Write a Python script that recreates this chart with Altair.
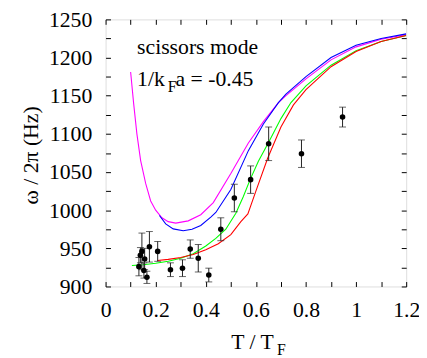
import altair as alt
import pandas as pd

# ---------------- data ----------------
T_pts = [0.133, 0.139, 0.145, 0.153, 0.156, 0.165, 0.175, 0.208, 0.259, 0.307,
         0.338, 0.370, 0.412, 0.460, 0.514, 0.579, 0.651, 0.782, 0.946]
f_pts = [926, 941, 946, 921, 936, 912, 952, 946, 922, 924,
         949, 937, 915, 975, 1016, 1040, 1087, 1074, 1122]
f_err = [12, 10, 24, 10, 14, 8, 20, 13, 9, 11,
         12, 18, 9, 15, 18, 18, 22, 18, 13]

mag_T = [0.100, 0.112, 0.125, 0.140, 0.160, 0.180, 0.200, 0.225, 0.250, 0.280, 0.330,
         0.380, 0.430, 0.500, 0.570, 0.630, 0.690, 0.720, 0.800, 0.900, 1.000, 1.100, 1.200]
mag_f = [1181, 1140, 1100, 1065, 1035, 1012, 1000, 990, 985, 983, 986,
         994, 1010, 1048, 1088, 1116, 1141, 1150, 1172, 1197, 1214, 1224, 1230]

blue_T = [0.215, 0.240, 0.270, 0.310, 0.345, 0.380, 0.420, 0.440, 0.500, 0.570, 0.630,
          0.690, 0.720, 0.800, 0.900, 1.000, 1.100, 1.200]
blue_f = [993, 982, 975.5, 973, 975, 980, 991, 997, 1027, 1078, 1113,
          1141, 1152, 1175, 1200, 1216, 1225, 1231]

green_T = [0.105, 0.150, 0.200, 0.250, 0.300, 0.350, 0.400, 0.440, 0.480, 0.520, 0.550,
           0.577, 0.610, 0.651, 0.700, 0.740, 0.800, 0.900, 1.000, 1.100, 1.200]
green_f = [927.5, 928.5, 930.5, 933, 937, 943, 953, 963, 975, 996, 1018,
           1040, 1064, 1089, 1120, 1141, 1163, 1190, 1209, 1221, 1229]

red_T = [0.207, 0.250, 0.300, 0.350, 0.400, 0.450, 0.500, 0.540, 0.568, 0.600, 0.647,
         0.700, 0.750, 0.800, 0.900, 1.000, 1.100, 1.200]
red_f = [934, 935.5, 938, 942, 948, 956, 968, 985, 995, 1025, 1068,
         1109, 1138, 1158, 1188, 1208, 1221, 1229]

series_names = ["magenta", "blue", "green", "red"]
series_colors = ["#ff00ff", "#0000ff", "#00ff00", "#ff0000"]

x_ticks = [0, 0.1, 0.2, 0.3, 0.4, 0.5, 0.6, 0.7, 0.8, 0.9, 1.0, 1.1, 1.2]
y_ticks = [900, 925, 950, 975, 1000, 1025, 1050, 1075, 1100, 1125, 1150,
           1175, 1200, 1225, 1250]

# ---------------- tables ----------------
rows = []
for name, ts, fs in zip(series_names, [mag_T, blue_T, green_T, red_T],
                        [mag_f, blue_f, green_f, red_f]):
    for i, (t, f) in enumerate(zip(ts, fs)):
        rows.append({"series": name, "T": t, "f": f, "i": i})
lines_df = pd.DataFrame(rows)
pts_df = pd.DataFrame({"T": T_pts, "f": f_pts, "e": f_err})

FONT = "Liberation Serif, Times New Roman, DejaVu Serif, serif"
FS = 22

x_scale = alt.Scale(domain=[0, 1.2], nice=False, zero=False)
y_scale = alt.Scale(domain=[900, 1250], nice=False, zero=False)

common_axis = dict(offset=-5, tickSize=5, domain=False, grid=False,
                   tickColor="black", tickWidth=1)

x_bottom = alt.Axis(values=x_ticks, orient="bottom", title=None,
                    labelExpr="round(datum.value*10) % 2 == 0 ? format(datum.value, '~g') : ''",
                    labelFont=FONT, labelFontSize=FS, labelColor="black",
                    labelPadding=13, labelFlush=False, labelOverlap=False, **common_axis)
y_left = alt.Axis(values=y_ticks, orient="left", title=None,
                  labelExpr="datum.value % 50 == 0 ? format(datum.value, 'd') : ''",
                  labelFont=FONT, labelFontSize=FS, labelColor="black",
                  labelPadding=14, labelFlush=False, labelOverlap=False, **common_axis)
x_top = alt.Axis(values=x_ticks, orient="top", title=None, labels=False, **common_axis)
y_right = alt.Axis(values=y_ticks, orient="right", title=None, labels=False, **common_axis)

lines = alt.Chart(lines_df).mark_line(strokeWidth=1.1, clip=True).encode(
    x=alt.X("T:Q", scale=x_scale, axis=x_bottom),
    y=alt.Y("f:Q", scale=y_scale, axis=y_left),
    color=alt.Color("series:N", scale=alt.Scale(domain=series_names, range=series_colors),
                    legend=None),
    order="i:Q",
)

bars = alt.Chart(pts_df).transform_calculate(
    lo="datum.f - datum.e", hi="datum.f + datum.e"
).mark_rule(color="#222222", strokeWidth=1).encode(
    x=alt.X("T:Q", scale=x_scale, axis=x_top),
    y=alt.Y("lo:Q", scale=y_scale, axis=y_right),
    y2="hi:Q",
)

caps_lo = alt.Chart(pts_df).transform_calculate(lo="datum.f - datum.e").mark_tick(
    orient="horizontal", size=7, thickness=1, color="#222222").encode(
    x=alt.X("T:Q", scale=x_scale, axis=None),
    y=alt.Y("lo:Q", scale=y_scale, axis=None),
)
caps_hi = alt.Chart(pts_df).transform_calculate(hi="datum.f + datum.e").mark_tick(
    orient="horizontal", size=7, thickness=1, color="#222222").encode(
    x=alt.X("T:Q", scale=x_scale, axis=None),
    y=alt.Y("hi:Q", scale=y_scale, axis=None),
)

points = alt.Chart(pts_df).mark_circle(size=32, color="black", opacity=1).encode(
    x=alt.X("T:Q", scale=x_scale, axis=None),
    y=alt.Y("f:Q", scale=y_scale, axis=None),
)


def label(txt, x, y, size=FS, align="left", angle=0, baseline="alphabetic"):
    return alt.Chart(pd.DataFrame({"t": [txt]})).mark_text(
        font=FONT, fontSize=size, align=align, baseline=baseline, angle=angle,
        color="black").encode(text="t:N", x=alt.value(x), y=alt.value(y))


texts = [
    label("scissors mode", 32, 35),
    label("1/k", 32, 68),
    label("F", 63, 74, size=16),
    label("a = -0.45", 71, 68),
    label("T / T", 149, 334, align="center"),
    label("F", 174, 341, size=16),
    label("ω / 2π  (Hz)", -76, 138, align="center", angle=270, baseline="middle"),
]

chart = alt.layer(lines, bars, caps_lo, caps_hi, points, *texts).resolve_axis(
    x="independent", y="independent"
).properties(
    width=305, height=271,
    autosize=alt.AutoSizeParams(type="none"),
    padding={"left": 99, "top": 9, "right": 13, "bottom": 70},
).configure_view(stroke="black", strokeWidth=1.5).configure(background="white")

chart.save("out.html", embed_options={"renderer": "svg", "actions": False})
